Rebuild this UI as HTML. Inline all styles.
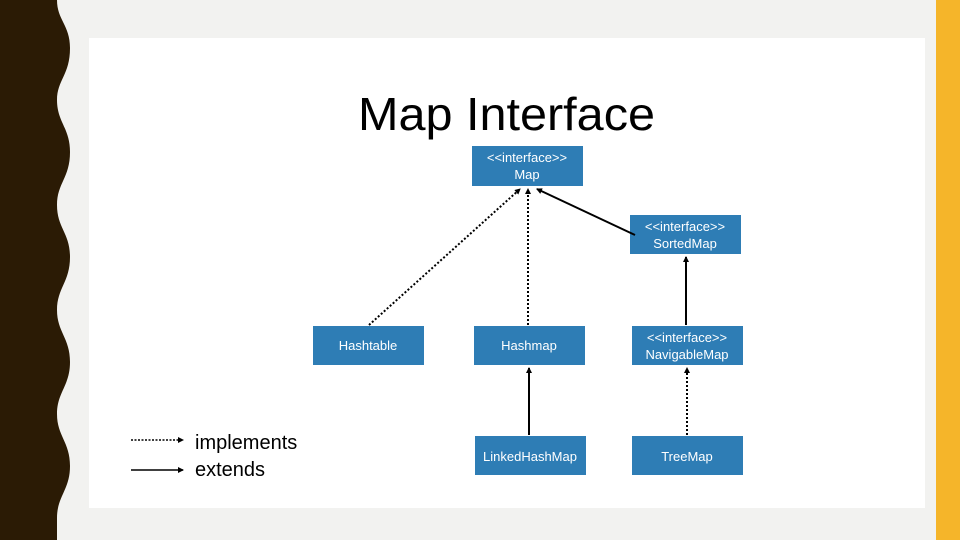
<!DOCTYPE html>
<html><head><meta charset="utf-8"><style>
html,body{margin:0;padding:0;width:960px;height:540px;overflow:hidden;background:#f2f2f0}
svg{display:block}
text{font-family:"Liberation Sans",Arial,sans-serif}
</style></head><body>
<svg width="960" height="540" viewBox="0 0 960 540" xmlns="http://www.w3.org/2000/svg">
<defs>
<marker id="ah" markerWidth="6" markerHeight="6" refX="5" refY="3" orient="auto" markerUnits="userSpaceOnUse"><path d="M0,0 L6,3 L0,6 z" fill="#000"/></marker>
</defs>
<rect width="960" height="540" fill="#f2f2f0"/>
<path d="M0,0 L57,0 C57,20 70,25 70,48 C70,75 57,80 57,100 C57,122 70,128 70,152 C70,178 57,183 57,205 C57,228 70,233 70,257 C70,282 57,288 57,310 C57,332 70,338 70,362 C70,386 57,392 57,414 C57,436 70,442 70,466 C70,490 57,496 57,518 L57,540 L0,540 Z" fill="#2b1b05"/>
<rect x="936" y="0" width="24" height="540" fill="#f5b52a"/>
<rect x="89" y="38" width="836" height="470" fill="#fff"/>
<text x="358" y="130" font-size="46" textLength="297" lengthAdjust="spacingAndGlyphs" fill="#000">Map Interface</text>
<g fill="#2e7db5">
<rect x="472" y="146" width="111" height="40"/>
<rect x="630" y="215" width="111" height="39"/>
<rect x="313" y="326" width="111" height="39"/>
<rect x="474" y="326" width="111" height="39"/>
<rect x="632" y="326" width="111" height="39"/>
<rect x="475" y="436" width="111" height="39"/>
<rect x="632" y="436" width="111" height="39"/>
</g>
<g fill="#fff" font-size="13" text-anchor="middle">
<text x="527" y="162">&lt;&lt;interface&gt;&gt;</text><text x="527" y="179">Map</text>
<text x="685" y="231">&lt;&lt;interface&gt;&gt;</text><text x="685" y="248">SortedMap</text>
<text x="368" y="350">Hashtable</text>
<text x="529" y="350">Hashmap</text>
<text x="687" y="342">&lt;&lt;interface&gt;&gt;</text><text x="687" y="359">NavigableMap</text>
<text x="530" y="461">LinkedHashMap</text>
<text x="687" y="461">TreeMap</text>
</g>
<g stroke="#000" stroke-width="2" fill="none">
<line x1="369" y1="325" x2="520" y2="189" stroke-dasharray="2,2" marker-end="url(#ah)"/>
<line x1="528" y1="325" x2="528" y2="189" stroke-dasharray="2,2" marker-end="url(#ah)"/>
<line x1="635" y1="235" x2="537" y2="189" marker-end="url(#ah)"/>
<line x1="686" y1="325" x2="686" y2="257" marker-end="url(#ah)"/>
<line x1="529" y1="435" x2="529" y2="368" marker-end="url(#ah)"/>
<line x1="687" y1="435" x2="687" y2="368" stroke-dasharray="2,2" marker-end="url(#ah)"/>
<line x1="131" y1="440" x2="183" y2="440" stroke-width="1.5" stroke-dasharray="2,1.5" marker-end="url(#ah)"/>
<line x1="131" y1="470" x2="183" y2="470" stroke-width="1.5" marker-end="url(#ah)"/>
</g>
<text x="195" y="449" font-size="20" fill="#000">implements</text>
<text x="195" y="476" font-size="20" fill="#000">extends</text>
</svg>
</body></html>
